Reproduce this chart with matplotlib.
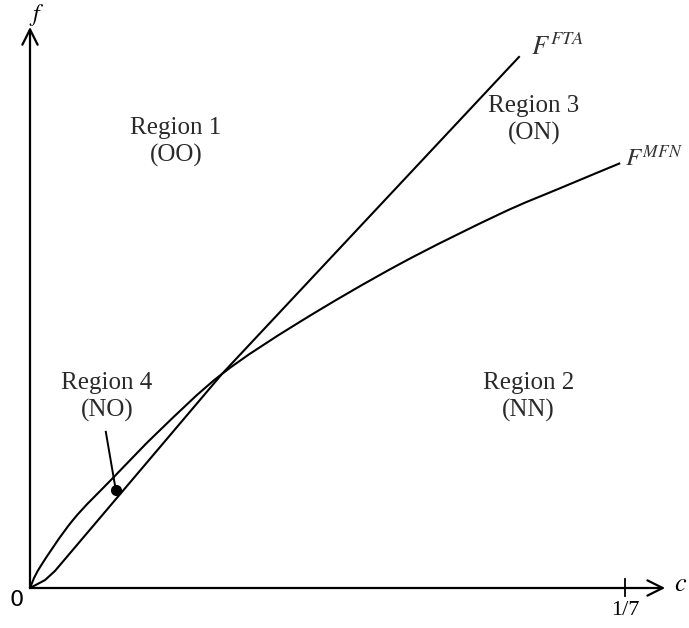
import matplotlib.pyplot as plt
from matplotlib.path import Path
from matplotlib.patches import PathPatch

plt.rcParams['mathtext.fontset'] = 'stix'
plt.rcParams['font.family'] = ['Liberation Serif', 'DejaVu Serif']

# curve F^FTA (c, f)
FTA_C = [0.0, 0.0036, 0.0060, 0.0461, 0.1174]
FTA_F = [0.0, 0.0019, 0.0041, 0.0514, 0.1275]

# curve F^MFN (c, f)
MFN_C = [0.0, 0.0024, 0.0103, 0.0199, 0.0312, 0.0461, 0.0648, 0.0888, 0.1128, 0.1273, 0.1417]
MFN_F = [0.0, 0.0050, 0.0163, 0.0264, 0.0379, 0.0514, 0.0639, 0.0778, 0.0898, 0.0960, 0.1020]

# point inside region 4 and end of its leader line
DOT = (0.0206, 0.0235)
LEADER_END = (0.0182, 0.0375)

REGIONS = [("Region 1\n(OO)", 0.0350, 0.1071),
           ("Region 3\n(ON)", 0.1210, 0.1124),
           ("Region 2\n(NN)", 0.1196, 0.0459),
           ("Region 4\n(NO)", 0.0185, 0.0459)]

C_TICK = 1 / 7
C_END = 0.1525   # arrow tip of c axis
F_END = 0.1347   # arrow tip of f axis


def smooth_path(xs, ys):
    # Catmull-Rom through the read points, drawn as cubic Bezier segments
    pts = list(zip(xs, ys))
    verts = [pts[0]]
    codes = [Path.MOVETO]
    for i in range(len(pts) - 1):
        p0 = pts[i - 1] if i > 0 else pts[i]
        p1 = pts[i]
        p2 = pts[i + 1]
        p3 = pts[i + 2] if i + 2 < len(pts) else pts[i + 1]
        c1 = (p1[0] + (p2[0] - p0[0]) / 6, p1[1] + (p2[1] - p0[1]) / 6)
        c2 = (p2[0] - (p3[0] - p1[0]) / 6, p2[1] - (p3[1] - p1[1]) / 6)
        verts += [c1, c2, p2]
        codes += [Path.CURVE4] * 3
    return Path(verts, codes)


fig = plt.figure(figsize=(6.89, 6.28), dpi=100)
ax = fig.add_axes([30 / 689, 40 / 628, 650 / 689, 588 / 628])
ax.set_xlim(0, 650 / 4165)
ax.set_ylim(0, 588 / 4165)
ax.axis('off')

arrow = dict(arrowstyle='->,head_length=1.1,head_width=0.55', color='black', lw=1.6,
             shrinkA=0, shrinkB=0)
ax.annotate('', xy=(C_END, 0), xytext=(0, 0), arrowprops=arrow, annotation_clip=False)
ax.annotate('', xy=(0, F_END), xytext=(0, 0), arrowprops=arrow, annotation_clip=False)

ax.plot(FTA_C, FTA_F, color='black', lw=1.5, solid_joinstyle='round', clip_on=False)
ax.add_patch(PathPatch(smooth_path(MFN_C, MFN_F), facecolor='none', edgecolor='black',
                       lw=1.5, clip_on=False))

# tick at 1/7
ax.plot([C_TICK, C_TICK], [-0.0019, 0.0022], color='black', lw=1.3, clip_on=False)
ax.text(C_TICK, -0.0055, '1/7', ha='center', va='center', fontsize=16)
ax.text(-0.0031, -0.0030, '0', ha='center', va='center', fontsize=16,
        family=['DejaVu Sans'])
ax.text(C_END + 0.0036, 0.0007, '$c$', ha='center', va='center', fontsize=19)
ax.text(0.0017, F_END + 0.0029, '$f$', ha='center', va='center', fontsize=17)

ax.text(FTA_C[-1] + 0.0030, FTA_F[-1] + 0.0025, '$F^{FTA}$', ha='left', va='center',
        fontsize=19, color='#333333')
ax.text(MFN_C[-1] + 0.0012, MFN_F[-1] + 0.0012, '$F^{MFN}$', ha='left', va='center',
        fontsize=18, color='#333333')

for label, cx, fy in REGIONS:
    ax.text(cx, fy, label, ha='center', va='center', fontsize=18, color='#2a2a2a',
            linespacing=1.25)

ax.plot([DOT[0], LEADER_END[0]], [DOT[1], LEADER_END[1]], color='black', lw=1.4)
ax.plot(DOT[0], DOT[1], 'o', color='black', ms=7)

fig.savefig('out.png', dpi=100)
